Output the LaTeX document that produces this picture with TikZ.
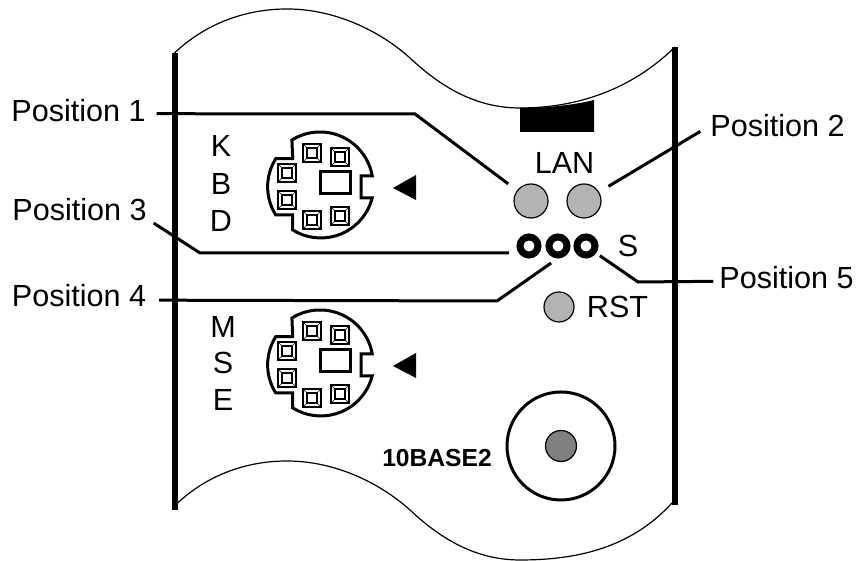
\documentclass[tikz,border=0pt]{standalone}
\usepackage{fontspec}
\setmainfont{Liberation Sans}
\usepackage{tkz-euclide}
\definecolor{ledgrey}{HTML}{B3B3B3}
\definecolor{coregrey}{HTML}{808080}
\tikzset{
    bar/.style={line width=.06cm, line cap=butt},
    leader/.style={line width=.03cm, line join=miter, line cap=butt},
    wave/.style={line width=.012cm},
    led/.style={circle, draw, fill=ledgrey, line width=.012cm, inner sep=0pt, outer sep=.115cm},
    ring/.style={circle, draw, line width=.07cm, minimum size=.18cm, inner sep=0pt, outer sep=.08cm},
    callout/.style={inner sep=0pt},
    ps2port/.pic={
        \draw[line width=.03cm] (122:.53) arc[start angle=122, end angle=10, radius=.53]
            -- ++(-.11,0) -- ++(0,-.22) -- ++(.11,0)
            arc[start angle=-14, end angle=-122, radius=.53]
            -- ++(0,.15) -- ++(-.17,0)
            arc[start angle=212, end angle=148, radius=.53]
            -- ++(.17,0) -- cycle;
        \draw[line width=.03cm] (.00,-.09) rectangle (.30,.13);
        \foreach \px/\py in {-.08/.32, .20/.28, -.33/.12, -.33/-.15, -.08/-.35, .20/-.31}{
            \draw[line width=.015cm] (\px-.09,\py-.09) rectangle (\px+.09,\py+.09);
            \draw[line width=.005cm] (\px-.09,\py-.09) -- (\px+.09,\py+.09)
                (\px-.09,\py+.09) -- (\px+.09,\py-.09);
            \draw[fill=white, line width=.02cm] (\px-.05,\py-.05) rectangle (\px+.05,\py+.05);
        }
        \fill (.73,-.03) -- (.96,.10) -- (.96,-.15) -- cycle;
    }
}

\begin{document}
\begin{tikzpicture}[every node/.append style={font=\fontsize{8.7}{10}\selectfont}]
        \useasboundingbox (0,0) rectangle (8.57,5.61);
        \tkzDefPoint(1.745,5.08){LT}
        \tkzDefPoint(1.745,.51){LB}
        \tkzDefPoint(6.75,5.14){RT}
        \tkzDefPoint(6.75,.56){RB}
        \tkzDefPoint(3.20,3.76){kbdport}
        \tkzDefPoint(3.20,1.98){mseport}
        % show edge and panel
        \tkzDrawSegment[bar](LT,LB)
        \tkzDrawSegment[bar](RT,RB)
        \draw[wave] (LT) .. controls (2.05,5.37) and (2.45,5.52) .. (2.87,5.52)
            .. controls (3.35,5.52) and (3.80,5.30) .. (4.10,5.03)
            .. controls (4.45,4.70) and (4.80,4.53) .. (5.20,4.53)
            .. controls (5.75,4.53) and (6.30,4.70) .. (RT);
        \draw[wave, yshift=-4.52cm] (1.745,5.07) .. controls (2.05,5.37) and (2.45,5.52) .. (2.87,5.52)
            .. controls (3.35,5.52) and (3.80,5.30) .. (4.10,5.03)
            .. controls (4.45,4.70) and (4.80,4.53) .. (5.20,4.53)
            .. controls (5.75,4.53) and (6.30,4.64) .. (6.72,5.10);
        \fill (5.20,4.29) -- (5.20,4.53) .. controls (5.45,4.53) and (5.75,4.56) .. (5.94,4.61) -- (5.94,4.29) -- cycle;
        \pic at (kbdport) {ps2port};
        \pic at (mseport) {ps2port};
        % Lights and sockets
        \node[led, minimum size=.34cm] (lan1) at (5.31,3.60) {};
        \node[led, minimum size=.34cm] (lan2) at (5.84,3.60) {};
        \node[ring, outer sep=.12cm] (s1) at (5.29,3.15) {};
        \node[ring, outer sep=.094cm] (s2) at (5.58,3.15) {};
        \node[ring] (s3) at (5.86,3.15) {};
        \node[led, minimum size=.30cm] (rst) at (5.59,2.54) {};
        \node[circle, draw, line width=.03cm, minimum size=1.08cm, inner sep=0pt] (coax) at (5.61,1.15) {};
        \node[circle, draw, fill=coregrey, line width=.012cm, minimum size=.31cm, inner sep=0pt] (core) at (5.61,1.15) {};
        % Panel text
        \node[callout] (lan) at (5.645,3.975) {LAN};
        \node[callout] (sled) at (6.28,3.15) {S};
        \node[callout] (rsttext) at (6.175,2.545) {RST};
        \node[callout] (kbdk) at (2.21,4.15) {K};
        \node[callout] (kbdb) at (2.21,3.77) {B};
        \node[callout] (kbdd) at (2.21,3.40) {D};
        \node[callout] (msem) at (2.23,2.34) {M};
        \node[callout] (mses) at (2.23,1.98) {S};
        \node[callout] (msee) at (2.23,1.61) {E};
        \node[callout, font=\fontsize{7}{8}\selectfont\bfseries] (base) at (4.37,1.03) {10BASE2};
        % Points Annotate
        \node[callout, outer sep=.11cm] (pos1) at (.785,4.50) {Position 1};
        \node[callout, outer sep=.10cm] (pos2) at (7.775,4.35) {Position 2};
        \node[callout, outer sep=.07cm] (pos3) at (.795,3.51) {Position 3};
        \node[callout, outer sep=.13cm] (pos4) at (.79,2.65) {Position 4};
        \node[callout, outer sep=.06cm] (pos5) at (7.865,2.835) {Position 5};
        \tkzDefPoint(4.15,4.47){bend1}
        \tkzDefPoint(2.00,3.08){bend3}
        \tkzDefPoint(4.97,2.60){bend4}
        \tkzDefPoint(6.38,2.79){bend5}
        \draw[leader] (pos1.-2) -- (bend1) -- (lan1);
        \draw[leader] (pos2.184) -- (lan2);
        \draw[leader] (pos3.-10) -- (bend3) -- (s1.199);
        \draw[leader] (pos4.-3.5) -- (bend4) -- (s2.248);
        \draw[leader] (pos5.183) -- (bend5) -- (s3.-35);
    \end{tikzpicture}
\end{document}
